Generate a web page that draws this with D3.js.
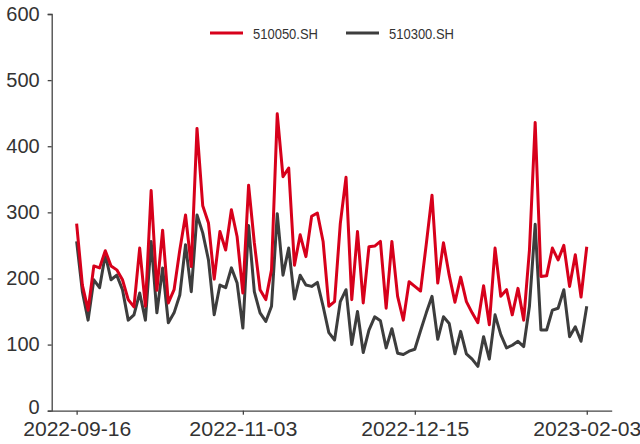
<!DOCTYPE html>
<html>
<head>
<meta charset="utf-8">
<script src="https://cdn.jsdelivr.net/npm/d3@7"></script>
<style>
  html, body { margin: 0; padding: 0; background: #fff; }
  svg { display: block; }
  text { font-family: "Liberation Sans", Arial, sans-serif; fill: #333; }
</style>
</head>
<body>
<svg id="chart" width="640" height="444"></svg>
<script>
const dates = [
  "2022-09-16","2022-09-19","2022-09-20","2022-09-21","2022-09-22","2022-09-23","2022-09-26","2022-09-27","2022-09-28","2022-09-29","2022-09-30",
  "2022-10-10","2022-10-11","2022-10-12","2022-10-13","2022-10-14","2022-10-17","2022-10-18","2022-10-19","2022-10-20","2022-10-21","2022-10-24","2022-10-25","2022-10-26","2022-10-27","2022-10-28","2022-10-31",
  "2022-11-01","2022-11-02","2022-11-03","2022-11-04","2022-11-07","2022-11-08","2022-11-09","2022-11-10","2022-11-11","2022-11-14","2022-11-15","2022-11-16","2022-11-17","2022-11-18","2022-11-21","2022-11-22","2022-11-23","2022-11-24","2022-11-25","2022-11-28","2022-11-29","2022-11-30",
  "2022-12-01","2022-12-02","2022-12-05","2022-12-06","2022-12-07","2022-12-08","2022-12-09","2022-12-12","2022-12-13","2022-12-14","2022-12-15","2022-12-16","2022-12-19","2022-12-20","2022-12-21","2022-12-22","2022-12-23","2022-12-26","2022-12-27","2022-12-28","2022-12-29","2022-12-30",
  "2023-01-03","2023-01-04","2023-01-05","2023-01-06","2023-01-09","2023-01-10","2023-01-11","2023-01-12","2023-01-13","2023-01-16","2023-01-17","2023-01-18","2023-01-19","2023-01-20","2023-01-30","2023-01-31",
  "2023-02-01","2023-02-02","2023-02-03"
];

const s510050 = [
  283,190,152,219,216,242,219,213,198,168,157,246,158,333,182,273,163,183,243,296,
  218,427,310,284,199,271,243,304,263,178,341,254,183,168,213,449,354,367,220,266,
  233,294,299,256,158,165,283,353,168,271,163,248,249,256,155,256,173,137,195,188,
  181,252,326,193,254,205,164,202,165,148,133,189,130,246,173,183,145,185,137,243,
  436,203,204,246,228,250,188,236,172,248
];

const s510300 = [
  256,180,137,198,186,236,198,205,183,137,145,178,137,256,148,216,133,148,175,251,
  180,296,269,228,145,190,186,216,193,125,280,180,148,135,158,298,205,246,169,205,
  190,188,194,158,118,107,165,183,100,150,88,122,142,136,95,124,87,85,90,93,
  121,148,173,108,142,132,86,120,86,78,67,112,78,145,115,95,99,105,97,158,
  282,122,122,152,155,183,112,127,105,158
];

const seriesNames = ["510050.SH", "510300.SH"];
const seriesColors = ["#d7001b", "#3d3d3d"];
const xTickLabels = ["2022-09-16", "2022-11-03", "2022-12-15", "2023-02-03"];
const yTicks = [0, 100, 200, 300, 400, 500, 600];

const svg = d3.select("#chart");

const x = d3.scalePoint().domain(dates).range([51.7, 611.7]).padding(4.35);
const y = d3.scaleLinear().domain([0, 600]).range([410.7, 14]);

// Y axis
const yAxis = svg.append("g")
  .attr("transform", "translate(51.7,0)")
  .call(d3.axisLeft(y).tickValues(yTicks).tickSize(4).tickPadding(8));
yAxis.select(".domain").attr("stroke", "#444").attr("stroke-width", 1.3);
yAxis.selectAll(".tick line").attr("stroke", "#444").attr("stroke-width", 1.3);
yAxis.selectAll(".tick text")
  .style("font-size", "20px")
  .attr("fill", "#333");
yAxis.selectAll(".tick text").filter(d => d === 0).attr("y", -3.5);

// X axis
const xAxis = svg.append("g")
  .attr("transform", "translate(0,410.7)")
  .call(d3.axisBottom(x).tickValues(xTickLabels).tickSize(4).tickPadding(7).tickSizeOuter(0));
xAxis.select(".domain").attr("stroke", "#444").attr("stroke-width", 1.3);
xAxis.selectAll(".tick line").attr("stroke", "#444").attr("stroke-width", 1.3);
xAxis.selectAll(".tick text")
  .style("font-size", "20px")
  .attr("fill", "#333")
  .attr("textLength", 108)
  .attr("lengthAdjust", "spacingAndGlyphs");

// Lines
const line = d3.line()
  .x((d, i) => x(dates[i]))
  .y(d => y(d));

[s510300, s510050].forEach((s, k) => {
  const idx = k === 0 ? 1 : 0;
  svg.append("path")
    .datum(s)
    .attr("fill", "none")
    .attr("stroke", seriesColors[idx])
    .attr("stroke-width", 3)
    .attr("stroke-linejoin", "round")
    .attr("d", line);
});

// Legend
const legendX = [210, 346];
const lg = svg.append("g");
seriesNames.forEach((name, i) => {
  lg.append("line")
    .attr("x1", legendX[i]).attr("x2", legendX[i] + 33)
    .attr("y1", 33).attr("y2", 33)
    .attr("stroke", seriesColors[i]).attr("stroke-width", 3);
  lg.append("text")
    .attr("x", legendX[i] + 43).attr("y", 38.5)
    .style("font-size", "15px")
    .attr("fill", "#333")
    .attr("textLength", 65)
    .attr("lengthAdjust", "spacingAndGlyphs")
    .text(name);
});
</script>
</body>
</html>
